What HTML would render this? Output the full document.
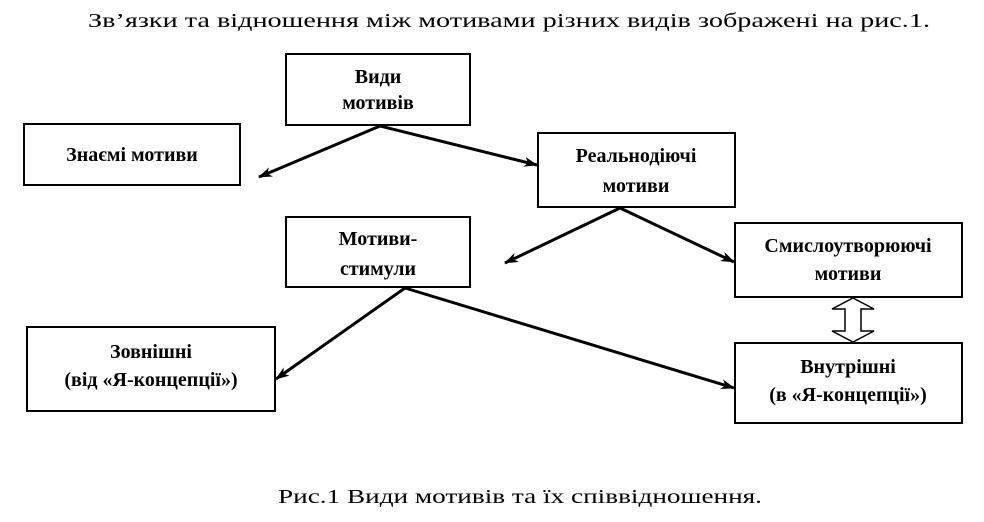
<!DOCTYPE html>
<html><head><meta charset="utf-8"><style>
html,body{margin:0;padding:0;background:#fff;}
svg{display:block;}
text{font-family:"Liberation Serif",serif;fill:#000;}
.b{font-weight:bold;font-size:20px;}
</style></head><body>
<svg width="984" height="522" viewBox="0 0 984 522" xmlns="http://www.w3.org/2000/svg">
<defs>
<marker id="a" viewBox="0 0 14 10" markerWidth="14" markerHeight="10" refX="13" refY="5" orient="auto" markerUnits="userSpaceOnUse">
<path d="M0,0 L14,5 L0,10 L4,5 Z" fill="#000"/>
</marker>
</defs>
<text x="509" y="27" font-size="20" text-anchor="middle" textLength="842" lengthAdjust="spacingAndGlyphs">Зв’язки  та відношення між мотивами різних видів зображені на рис.1.</text>
<g fill="#fff" stroke="#000" stroke-width="2">
<rect x="286" y="54" width="184" height="71"/>
<rect x="24" y="124" width="216" height="61"/>
<rect x="538" y="133" width="197" height="74"/>
<rect x="286" y="217" width="184" height="70"/>
<rect x="735" y="223" width="227" height="74"/>
<rect x="27" y="327" width="248" height="84"/>
<rect x="735" y="343" width="227" height="80"/>
</g>
<g stroke="#000" stroke-width="3" fill="none" marker-end="url(#a)">
<line x1="380" y1="126" x2="259" y2="177"/>
<line x1="380" y1="126" x2="537" y2="165"/>
<line x1="620" y1="208" x2="505" y2="263"/>
<line x1="620" y1="208" x2="734" y2="262"/>
<line x1="405" y1="288" x2="276" y2="379"/>
<line x1="405" y1="288" x2="734" y2="388"/>
</g>
<path d="M853,298 L874,309 L861,309 L861,331 L874,331 L853,342 L832,331 L845,331 L845,309 L832,309 Z" fill="#fff" stroke="#000" stroke-width="1.5"/>
<g text-anchor="middle">
<text x="378" y="83" class="b">Види</text>
<text x="378" y="109" class="b">мотивів</text>
<text x="132" y="161" class="b">Знаємі мотиви</text>
<text x="636" y="162" class="b">Реальнодіючі</text>
<text x="636" y="192" class="b">мотиви</text>
<text x="378" y="245" class="b">Мотиви-</text>
<text x="378" y="275" class="b">стимули</text>
<text x="848" y="252" class="b">Смислоутворюючі</text>
<text x="848" y="280" class="b">мотиви</text>
<text x="151" y="358" class="b">Зовнішні</text>
<text x="151" y="386" class="b">(від «Я-концепції»)</text>
<text x="848" y="373" class="b">Внутрішні</text>
<text x="848" y="401" class="b">(в «Я-концепції»)</text>
</g>
<text x="520" y="503" font-size="20" text-anchor="middle" textLength="484" lengthAdjust="spacingAndGlyphs">Рис.1  Види мотивів та їх співвідношення.</text>
</svg>
</body></html>
